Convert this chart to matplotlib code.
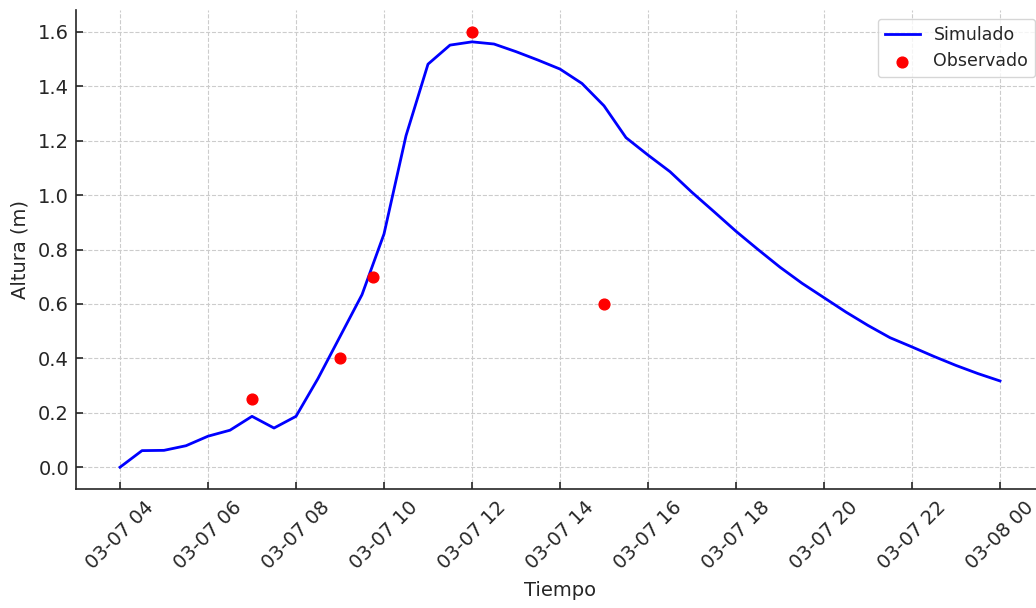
import matplotlib
matplotlib.use("Agg")
import matplotlib.pyplot as plt
import matplotlib.dates as mdates
import pandas as pd

# Simulated series (every 30 min from 03-07 04:00 to 03-08 00:00)
sim_start = "2024-03-07 04:00"
sim_values = [0.000, 0.061, 0.062, 0.079, 0.114, 0.136, 0.187, 0.144, 0.187,
              0.326, 0.480, 0.634, 0.857, 1.218, 1.481, 1.551, 1.563, 1.555,
              1.527, 1.496, 1.463, 1.410, 1.328, 1.211, 1.147, 1.086, 1.010,
              0.939, 0.867, 0.800, 0.735, 0.676, 0.623, 0.570, 0.521, 0.476,
              0.442, 0.407, 0.374, 0.344, 0.317]
sim_times = pd.date_range(sim_start, periods=len(sim_values), freq="30min")

# Observed
obs_times = pd.to_datetime(["2024-03-07 07:00", "2024-03-07 09:00", "2024-03-07 09:45",
                            "2024-03-07 12:00", "2024-03-07 15:00"])
obs_values = [0.25, 0.40, 0.70, 1.60, 0.60]

txt = "#262626"
fig = plt.figure(figsize=(10.36, 6.08), dpi=100)
W, H = 1036, 608
ax = fig.add_axes([76 / W, 1 - 489 / H, 968 / W, 479 / H])

ax.plot(sim_times, sim_values, color="blue", lw=2, label="Simulado", zorder=3)
ax.scatter(obs_times, obs_values, color="red", s=60, label="Observado", zorder=4)

ax.xaxis.set_major_locator(mdates.HourLocator(byhour=range(0, 24, 2)))
ax.xaxis.set_major_formatter(mdates.DateFormatter("%m-%d %H"))
ax.set_xlim(pd.Timestamp("2024-03-07 03:00"), pd.Timestamp("2024-03-08 01:00"))
ax.set_ylim(-0.08, 1.68)
ax.set_yticks([0.0, 0.2, 0.4, 0.6, 0.8, 1.0, 1.2, 1.4, 1.6])
ax.yaxis.set_major_formatter(matplotlib.ticker.FormatStrFormatter("%.1f"))

ax.grid(True, linestyle="--", color="#cccccc", lw=0.8)
ax.set_axisbelow(True)
for s in ["top", "right"]:
    ax.spines[s].set_visible(False)
for s in ["left", "bottom"]:
    ax.spines[s].set_color(txt)
    ax.spines[s].set_linewidth(1.2)

ax.tick_params(direction="in", length=5, width=1.2, colors=txt, labelsize=14)
ax.tick_params(axis="y", pad=5)
ax.tick_params(axis="x", pad=6)
plt.setp(ax.get_xticklabels(), rotation=45, ha="center")

ax.set_xlabel("Tiempo", fontsize=14, color=txt, labelpad=6)
ax.set_ylabel("Altura (m)", fontsize=14, color=txt, labelpad=6)

leg = ax.legend(loc="upper right", fontsize=12.5, frameon=True, fancybox=True,
                edgecolor="#cccccc")
for t in leg.get_texts():
    t.set_color(txt)

fig.savefig("out.png", dpi=100)
